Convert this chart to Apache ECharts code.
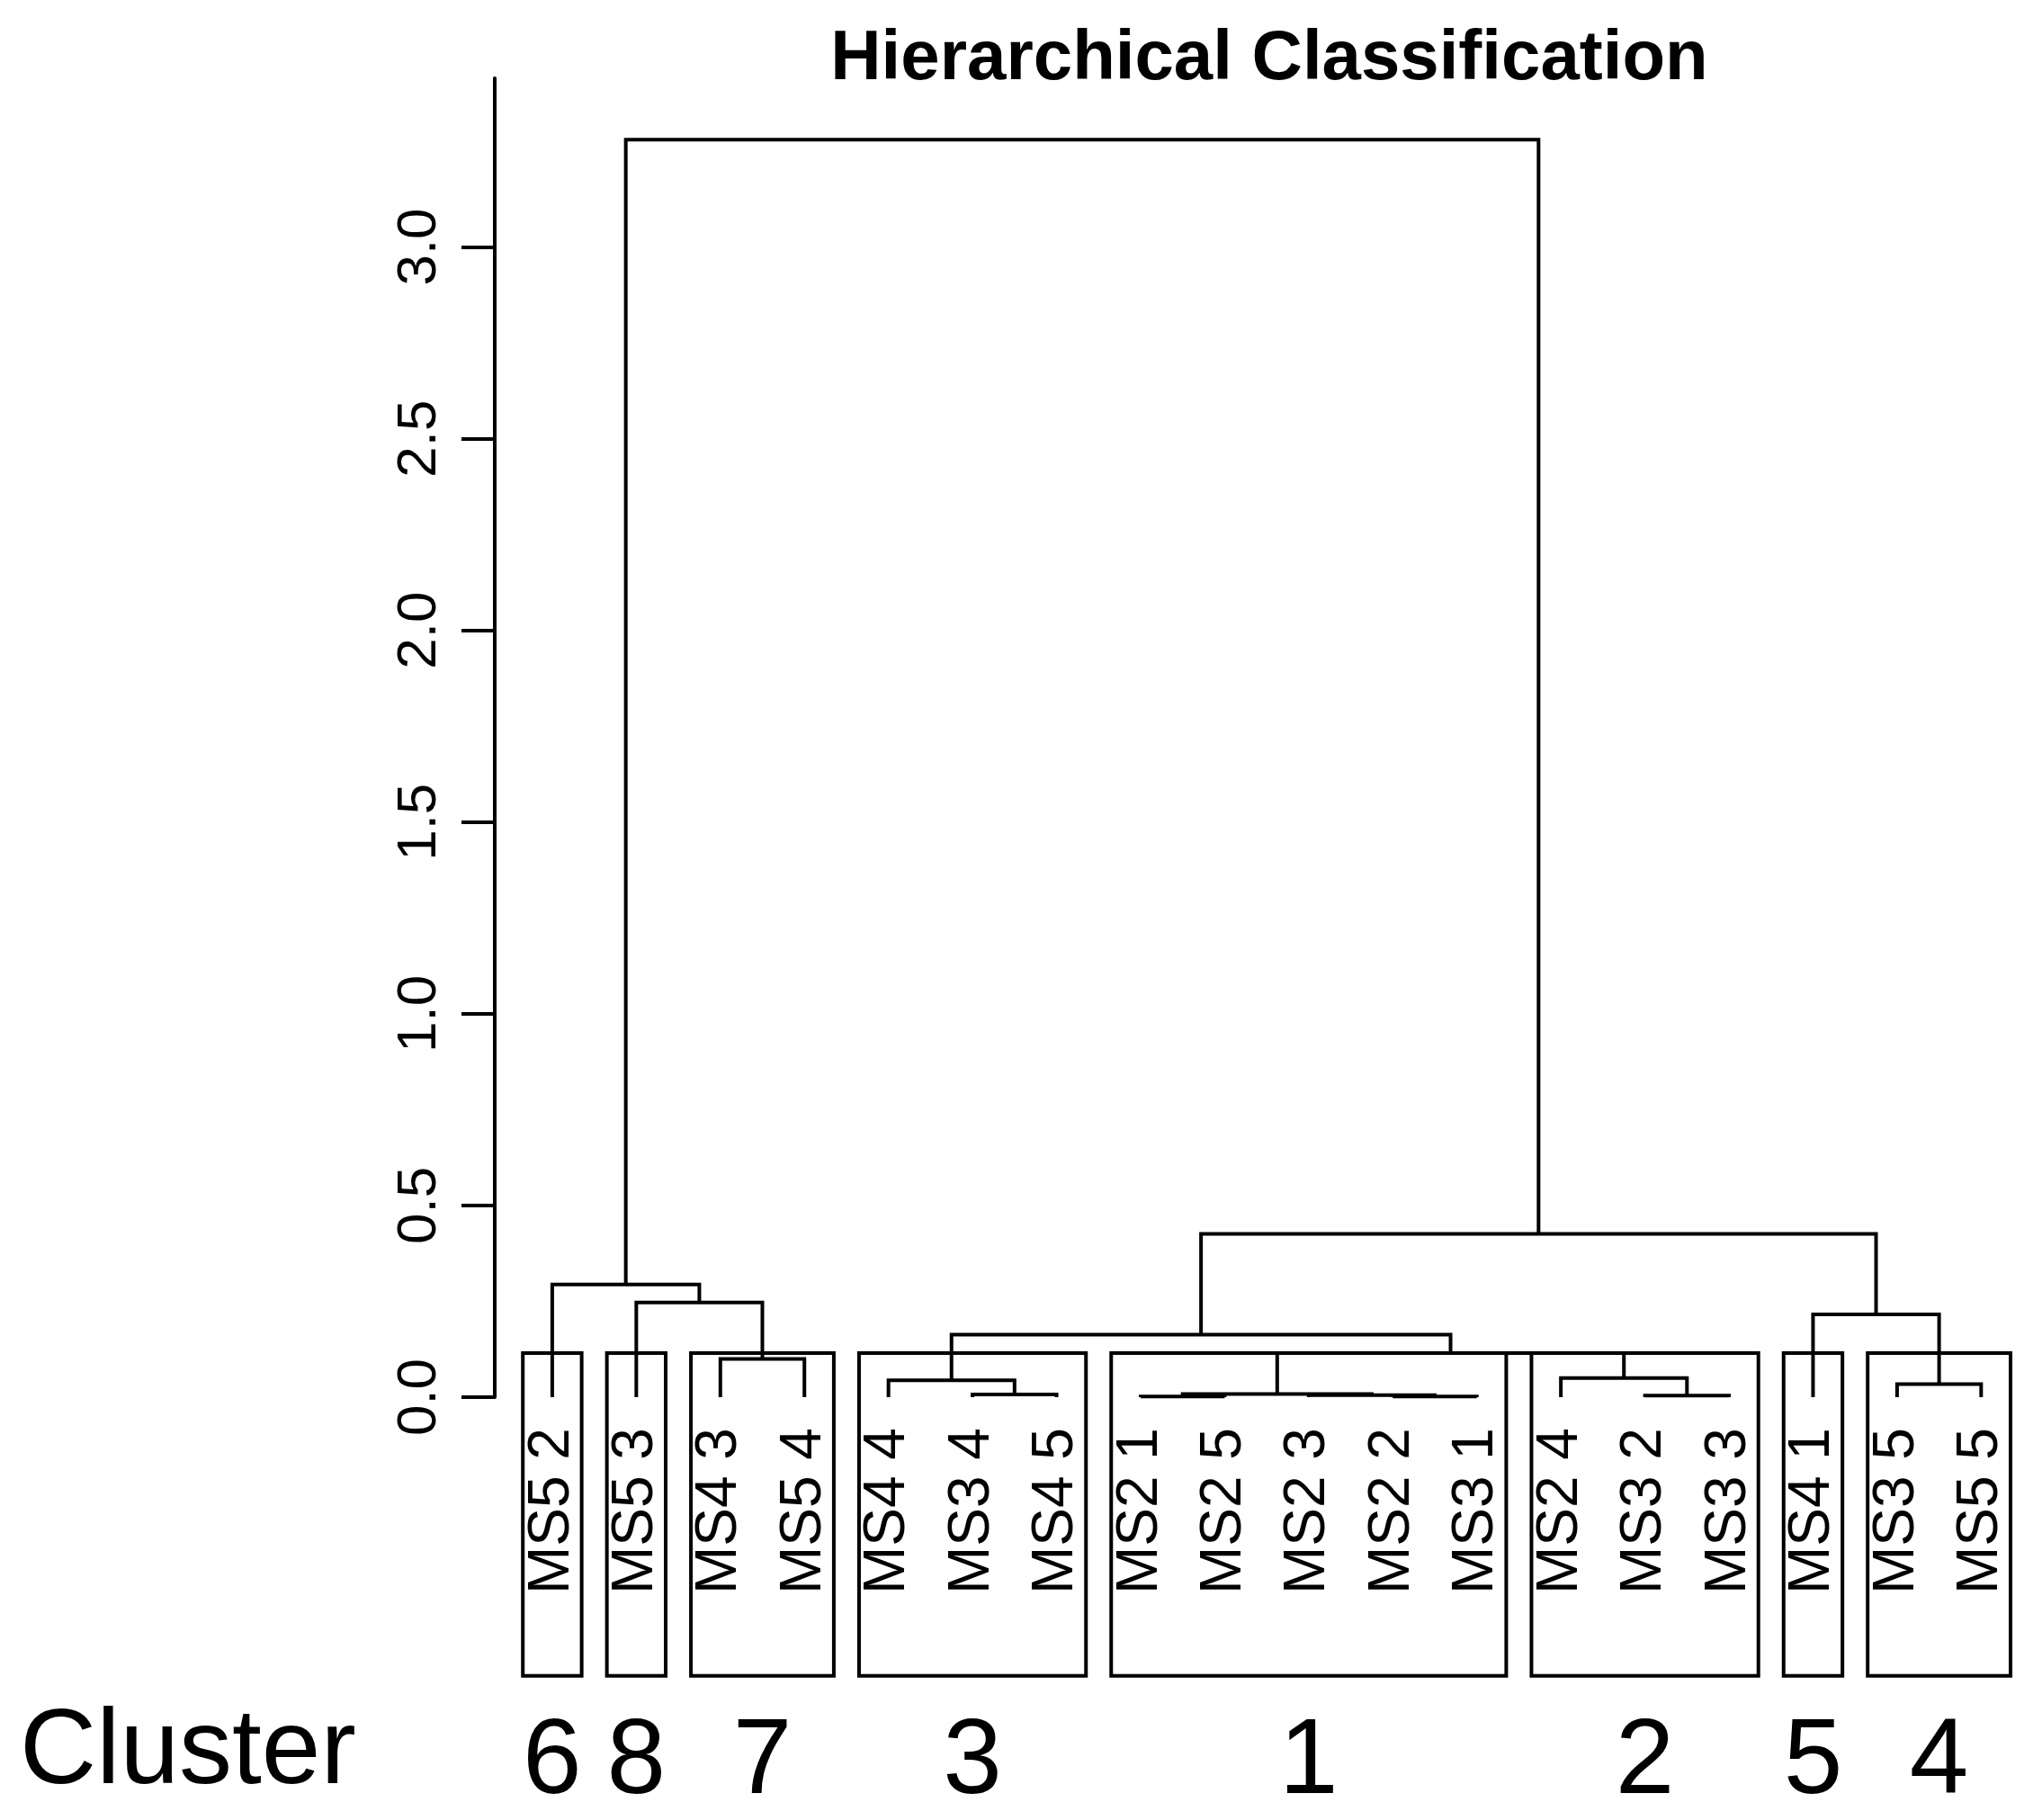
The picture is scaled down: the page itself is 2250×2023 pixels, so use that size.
<!DOCTYPE html>
<html><head><meta charset="utf-8">
<script src="https://cdn.jsdelivr.net/npm/echarts@6/dist/echarts.min.js"></script>
<style>html,body{margin:0;padding:0;background:#fff}#c{width:2250px;height:2023px}</style>
</head><body><div id="c"></div>
<script>
const leafLabels = ['MS5 2','MS5 3','MS4 3','MS5 4','MS4 4','MS3 4','MS4 5','MS2 1','MS2 5','MS2 3','MS2 2','MS3 1','MS2 4','MS3 2','MS3 3','MS4 1','MS3 5','MS5 5'];
// negative = leaf -(index+1), positive = merge number (1-based)
const mergeLeft   = [-3, -2, -1, -6, -5, -8, -11, -10, 6, -14, -13, 9, 5, -17, -16, 13, 3];
const mergeRight  = [-4,  1,  2, -7,  4, -9, -12,   7, 8, -15,  10, 11, 12, -18, 14, 15, 16];
const mergeHeight = [0.100,0.247,0.294,0.007,0.044,0.002,0.002,0.005,0.008,0.004,0.050,0.115,0.163,0.034,0.216,0.426,3.28];
const clusterFirst = [1,2,3,5,8,13,16,17];
const clusterLast  = [1,2,4,7,12,15,16,18];
const clusterNames = ['6','8','7','3','1','2','5','4'];
const yTicks = [0,0.5,1,1.5,2,2.5,3];

const nodeX = [], nodeH = [];
function pos(r){ return r<0 ? [-r, 0] : [nodeX[r-1], nodeH[r-1]]; }
const segs = [];
mergeLeft.forEach((l,i)=>{
  const a=pos(l), b=pos(mergeRight[i]), h=mergeHeight[i];
  segs.push([a[0],a[1],a[0],h,b[0],h,b[0],b[1]]);
  nodeX.push((a[0]+b[0])/2); nodeH.push(h);
});
const boxes = clusterFirst.map((f,i)=>[f-0.35, clusterLast[i]+0.35, clusterNames[i]]);
const leaves = leafLabels.map((t,i)=>[i+1,t]);
const FONT='Liberation Sans, Arial, sans-serif';
const chart = echarts.init(document.getElementById('c'));
chart.setOption({
  animation:false,
  title:{text:'Hierarchical Classification',left:1406,top:22,textAlign:'center',
    textStyle:{fontFamily:FONT,fontSize:78,fontWeight:'bold',color:'#000'}},
  grid:{left:550,right:0,top:87,bottom:470},
  xAxis:{type:'value',min:0.316,max:18.51,show:false},
  yAxis:{type:'value',min:0,max:3.44,interval:0.5,
    axisLine:{show:true,lineStyle:{color:'#000',width:4}},
    axisTick:{show:true,length:37,lineStyle:{color:'#000',width:4},
      customValues:yTicks},
    splitLine:{show:false},
    axisLabel:{rotate:90,margin:52,fontFamily:FONT,fontSize:62,color:'#000',
      customValues:yTicks,formatter:v=>v.toFixed(1)}},
  graphic:[{type:'text',left:22,top:1890,style:{text:'Cluster',fontFamily:FONT,fontSize:118,fill:'#000'}}],
  series:[
    {type:'custom',clip:false,data:segs,renderItem:(p,api)=>{
      const pts=[];for(let k=0;k<4;k++)pts.push(api.coord([api.value(2*k),api.value(2*k+1)]));
      return {type:'polyline',shape:{points:pts},style:{stroke:'#000',lineWidth:4,fill:null}};
    }},
    {type:'custom',clip:false,data:boxes,renderItem:(p,api)=>{
      const a=api.coord([api.value(0),0.115]), b=api.coord([api.value(1),-0.727]);
      const c=api.coord([(api.value(0)+api.value(1))/2,-0.957]);
      return {type:'group',children:[
        {type:'rect',shape:{x:a[0],y:a[1],width:b[0]-a[0],height:b[1]-a[1]},style:{stroke:'#000',lineWidth:4,fill:null}},
        {type:'text',x:c[0],y:c[1],style:{text:boxes[p.dataIndex][2],fontFamily:FONT,fontSize:118,fill:'#000',align:'center',verticalAlign:'middle'}}
      ]};
    }},
    {type:'custom',clip:false,data:leaves,renderItem:(p,api)=>{
      const c=api.coord([api.value(0),-0.08]);
      return {type:'text',x:c[0],y:c[1],rotation:Math.PI/2,
        style:{text:leaves[p.dataIndex][1],fontFamily:FONT,fontSize:64,fill:'#000',align:'right',verticalAlign:'middle'}};
    }}
  ]
});
</script></body></html>
